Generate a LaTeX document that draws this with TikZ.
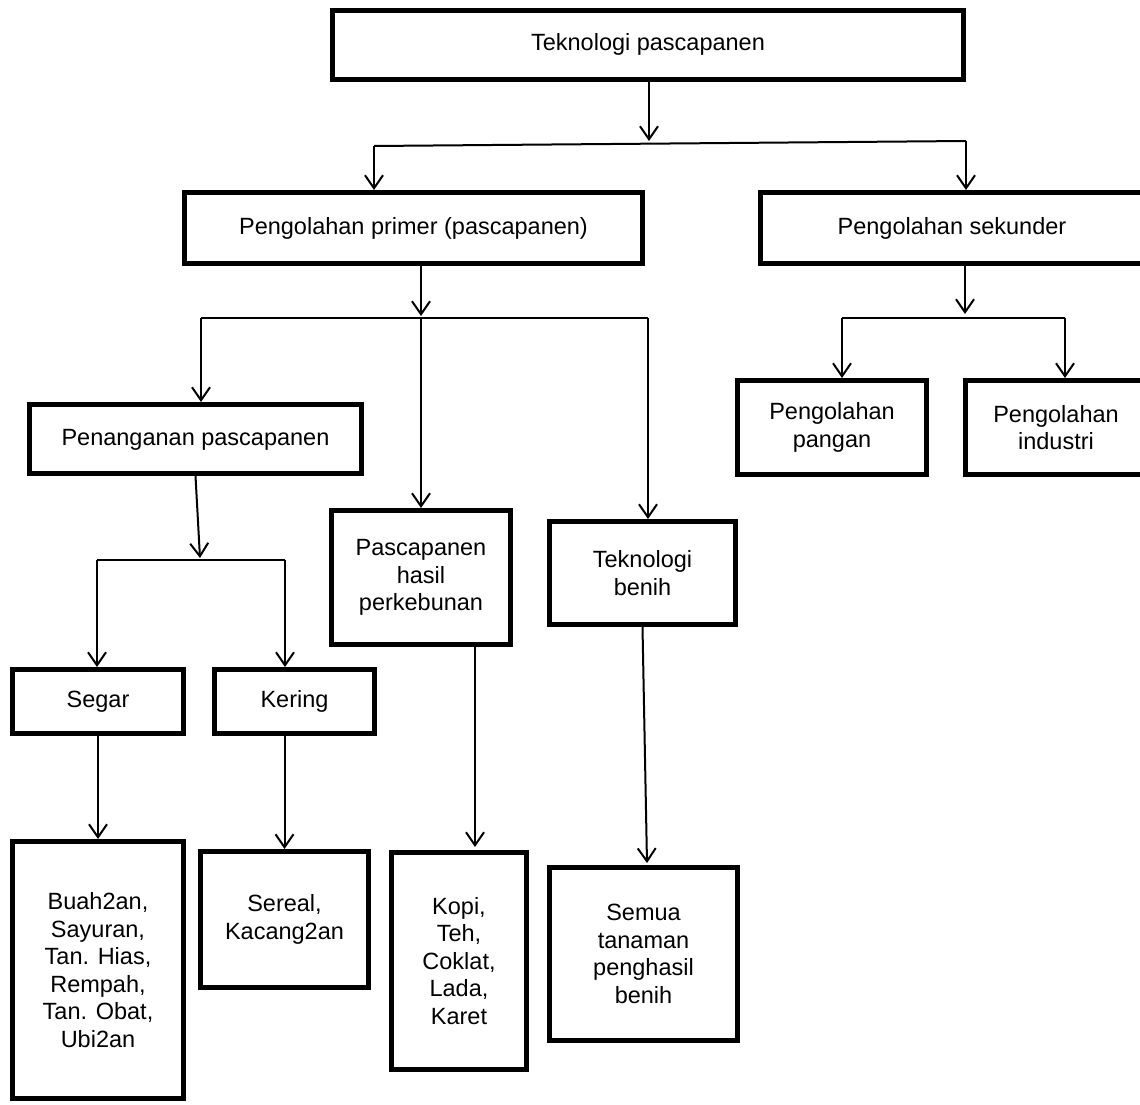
\documentclass[tikz,border=0pt]{standalone}
\usepackage{fontspec}
\setmainfont{Liberation Sans}
\usetikzlibrary{arrows.meta}
\begin{document}
\begin{tikzpicture}[x=1pt,y=-1pt,
  box/.style={draw,line width=5pt,rectangle,inner sep=0pt,align=center,
    font=\fontsize{23.5}{27.5}\selectfont},
  one/.style={text height=17pt,text depth=5pt},
  ln/.style={line width=2pt},
  arr/.style={line width=2pt,-{Straight Barb[length=13pt,width=18pt]}}]
\useasboundingbox (0,0) rectangle (1140,1105);
\clip (0,0) rectangle (1140,1105);
\fill[white] (0,0) rectangle (1140,1105);

% boxes
\node[box,one,minimum width=631pt,minimum height=69pt] (top) at (648,45) {Teknologi pascapanen};
\node[box,one,minimum width=458pt,minimum height=71pt] (primer) at (413.5,228) {Pengolahan primer (pascapanen)};
\node[box,one,minimum width=383pt,minimum height=71pt] (sek) at (952,228) {Pengolahan sekunder};
\node[box,minimum width=189pt,minimum height=94pt] (pangan) at (832,427.5) {Pengolahan\\pangan};
\node[box,minimum width=181pt,minimum height=94pt] (industri) at (1056,427.5) {Pengolahan\\industri};
\node[box,one,minimum width=332pt,minimum height=69pt] (pen) at (195.5,439) {Penanganan pascapanen};
\node[box,minimum width=179pt,minimum height=134pt] (pas) at (421,577.5) {Pascapanen\\hasil\\perkebunan};
\node[box,minimum width=186pt,minimum height=103pt] (tb) at (642.5,573) {Teknologi\\benih};
\node[box,one,minimum width=171pt,minimum height=64pt] (segar) at (98,701.5) {Segar};
\node[box,one,minimum width=160pt,minimum height=64pt] (kering) at (294.5,701.5) {Kering};
\node[box,minimum width=171pt,minimum height=257pt] (buah) at (98,970) {Buah2an,\\Sayuran,\\Tan. Hias,\\Rempah,\\Tan. Obat,\\Ubi2an};
\node[box,minimum width=168pt,minimum height=136pt] (sereal) at (284.5,919.5) {Sereal,\\Kacang2an};
\node[box,minimum width=135pt,minimum height=217pt] (kopi) at (459,961) {Kopi,\\Teh,\\Coklat,\\Lada,\\Karet};
\node[box,minimum width=188pt,minimum height=173pt] (semua) at (643.5,954) {Semua\\tanaman\\penghasil\\benih};

% junction coordinates
\coordinate (t1) at (649,141);
\coordinate (t1L) at (374,146);
\coordinate (t1R) at (966,141);
\coordinate (p1) at (421,316);
\coordinate (p1C) at (421,318);
\coordinate (p1L) at (201,318);
\coordinate (p1R) at (648,318);
\coordinate (s1) at (965,314);
\coordinate (s1L) at (842,318);
\coordinate (s1R) at (1065,318);
\coordinate (n1) at (200,558);
\coordinate (n1L) at (97,560);
\coordinate (n1R) at (285,560);
\coordinate (kx) at (475,847);
\coordinate (sx) at (647,863);

% level 1
\draw[arr] (top.south -| t1) -- (t1);
\draw[ln] (t1L) -- (t1R);
\draw[arr] (t1L) -- (primer.north -| t1L);
\draw[arr] (t1R) -- (sek.north -| t1R);

% primer
\draw[arr] (primer.south -| p1) -- (p1);
\draw[ln] (p1L) -- (p1R);
\draw[arr] (p1L) -- (pen.north -| p1L);
\draw[arr] (p1C) -- (pas.north -| p1C);
\draw[arr] (p1R) -- (tb.north -| p1R);

% sekunder
\draw[arr] (sek.south -| s1) -- (s1);
\draw[ln] (s1L) -- (s1R);
\draw[arr] (s1L) -- (pangan.north -| s1L);
\draw[arr] (s1R) -- (industri.north -| s1R);

% penanganan
\draw[arr] (pen.south) -- (n1);
\draw[ln] (n1L) -- (n1R);
\draw[arr] (n1L) -- (segar.north -| n1L);
\draw[arr] (n1R) -- (kering.north -| n1R);
\draw[arr] (segar.south) -- (buah.north);
\draw[arr] (kering.south -| sereal.north) -- (sereal.north);

% perkebunan and benih
\draw[arr] (pas.south -| kx) -- (kx);
\draw[arr] (tb.south) -- (sx);
\end{tikzpicture}
\end{document}
